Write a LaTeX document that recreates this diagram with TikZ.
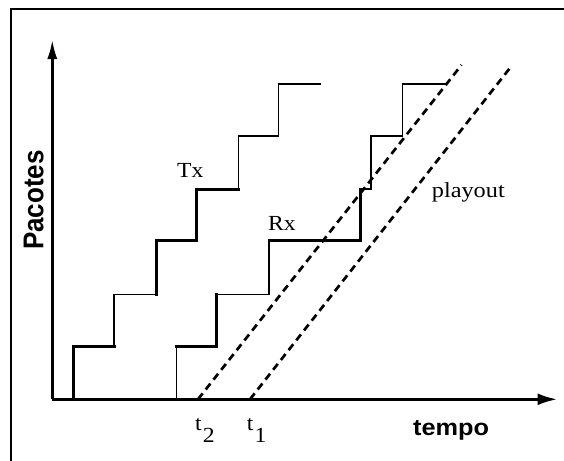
\documentclass[tikz,border=0pt]{standalone}
\usepackage{fontspec}
\setmainfont{Liberation Serif}
\newfontfamily\labsans{Liberation Sans}
\usetikzlibrary{arrows.meta}
\tikzset{
  thickstep/.style={line width=3pt,line cap=rect},
  thinstep/.style={line width=1.4pt,line cap=rect},
  axisline/.style={line width=3pt},
  playline/.style={line width=2.7pt,dash pattern=on 7.5pt off 5pt},
  framebox/.style={line width=2.2pt},
  serlabel/.style={inner sep=0pt,anchor=base west,font=\fontsize{21.5}{25}\selectfont},
  sanslabel/.style={inner sep=0pt,anchor=base west},
}
\begin{document}
\begin{tikzpicture}[x=1pt,y=-1pt]
\useasboundingbox (0,0) rectangle (564,460);
% frame
\draw[framebox] (11,462) -- (11,9.3) -- (566,9.3);
% axes
\coordinate (O) at (52.3,399.3);
\coordinate (ytop) at (52.3,39);
\coordinate (xend) at (557.5,399.3);
\draw[axisline,-{Latex[length=20pt,width=10pt]}] (O) -- (ytop);
\draw[axisline,-{Latex[length=20pt,width=12pt]}] (O) -- (xend);
% Tx staircase
\draw[thickstep] (73.3,399.3) -- (73.3,346.7) -- (114,346.7);
\draw[thinstep] (114,346.7) -- (114,294.3) -- (156,294.3);
\draw[thickstep] (156,294.3) -- (156,240.8) -- (196.7,240.8) -- (196.7,189) -- (238.3,189);
\draw[thinstep] (238.3,189) -- (238.3,136) -- (278.7,136) -- (278.7,84) -- (320,84);
% Rx staircase
\draw[thinstep] (176.7,399.3) -- (176.7,346.7);
\draw[thickstep] (176.7,346.7) -- (216.7,346.7) -- (216.7,294.3);
\draw[thinstep] (216.7,294.3) -- (269,294.3) -- (269,240.8);
\draw[thickstep] (269,240.8) -- (360.7,240.8) -- (360.7,189);
\draw[thinstep] (360.7,189) -- (371,189) -- (371,136) -- (402.3,136) -- (402.3,84) -- (445,84);
% playout lines
\coordinate (p2a) at (198,399.3);
\coordinate (p2b) at (461.5,65);
\coordinate (p1a) at (250,399.3);
\coordinate (p1b) at (512.3,65);
\draw[playline] (p2a) -- (p2b);
\draw[playline] (p1a) -- (p1b);
% labels
\node[serlabel] (tx) at (177,177.3) {\scalebox{1.1}[1]{Tx}};
\node[serlabel] (rx) at (268,230.7) {\scalebox{1.1}[1]{Rx}};
\node[serlabel] (play) at (431.7,197.3) {\scalebox{1.13}[1]{playout}};
\node[serlabel] (t2) at (195,430) {\scalebox{1.1}[1]{t\hspace{1pt}\raisebox{-12.7pt}{2}}};
\node[serlabel] (t1) at (246.7,430) {\scalebox{1.1}[1]{t\hspace{1pt}\raisebox{-12.7pt}{1}}};
\node[sanslabel,font=\labsans\bfseries\fontsize{23}{27}\selectfont] (tempo) at (413,435) {\scalebox{1.1}[1]{tempo}};
\node[sanslabel,rotate=90,font=\labsans\bfseries\fontsize{26}{30}\selectfont] (pac) at (43.3,250) {\scalebox{1}[1.1]{Pacotes}};
\end{tikzpicture}
\end{document}
